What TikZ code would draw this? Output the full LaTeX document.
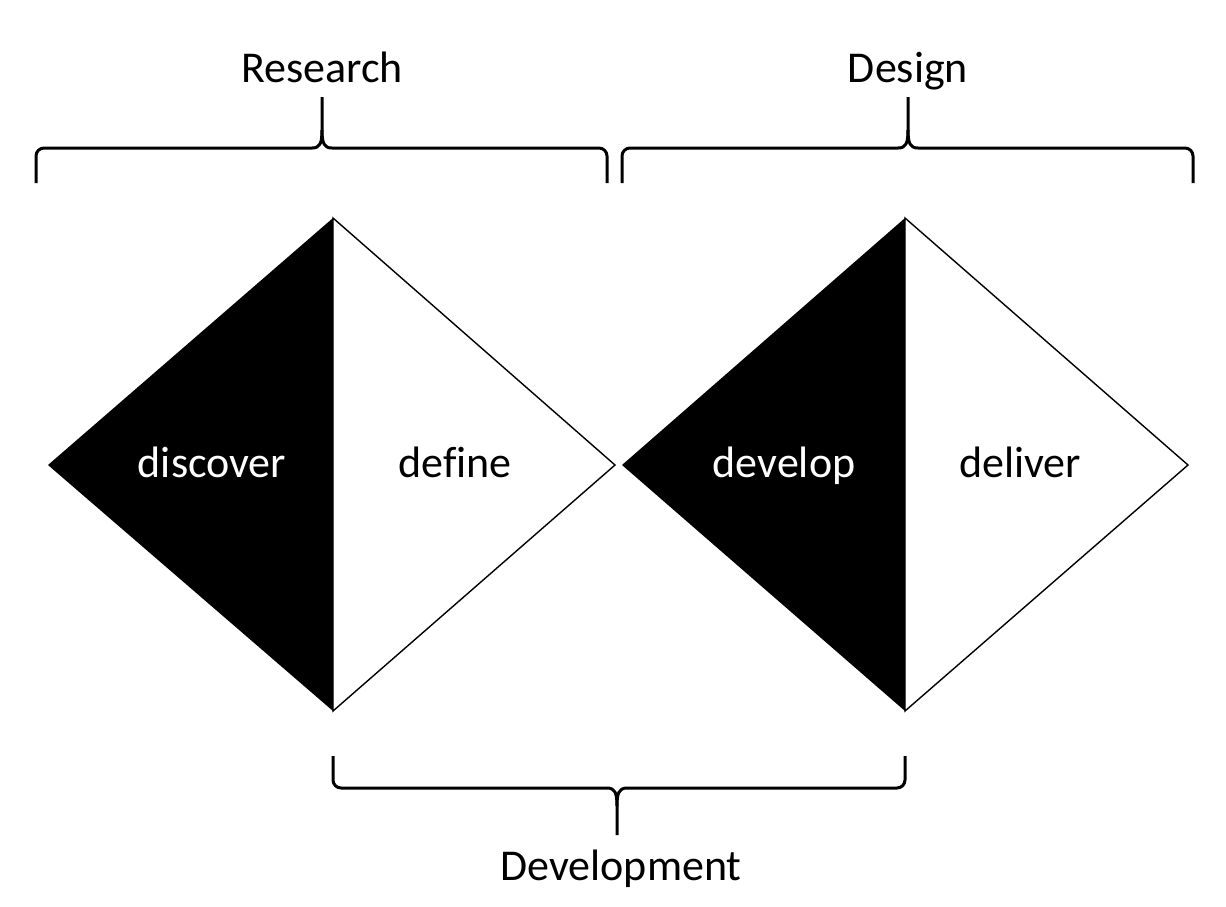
\documentclass[tikz,border=0pt]{standalone}
\usepackage{fontspec}
\setmainfont{Carlito}[Ligatures=NoCommon]
\begin{document}
\begin{tikzpicture}[x=1pt,y=-1pt,
  lbl/.style={inner sep=0pt, anchor=base, font=\fontsize{44}{50}\selectfont},
  bracestyle/.style={line width=3pt, line join=round},
  edge/.style={line width=1.4pt, line join=miter}]
\useasboundingbox[fill=white] (0,0) rectangle (1226,906);
% diamond vertices
\coordinate (aL) at (48,465);  \coordinate (aT) at (333,218);
\coordinate (aB) at (333,711); \coordinate (aR) at (615,465);
\coordinate (bL) at (622,465); \coordinate (bT) at (905,218);
\coordinate (bB) at (905,711); \coordinate (bR) at (1188,465);
% diamonds
\fill[black] (aL) -- (aT) -- (aB) -- cycle;
\draw[edge] (aT) -- (aR) -- (aB) -- cycle;
\fill[black] (bL) -- (bT) -- (bB) -- cycle;
\draw[edge] (bT) -- (bR) -- (bB) -- cycle;
% labels inside
\node[lbl, text=white] (discover) at (212,477) {discover};
\node[lbl] (define) at (455,477) {define};
\node[lbl, text=white] (develop) at (784,477) {develop};
\node[lbl] (deliver) at (1020,477) {deliver};
% top braces
\draw[bracestyle, rounded corners=8pt] (36,183) -- (36,148) -- (312,148);
\draw[bracestyle] (312,148) .. controls (320,148) and (322,143) .. (322,130) -- (322,97);
\draw[bracestyle, rounded corners=8pt] (607,183) -- (607,148) -- (332,148);
\draw[bracestyle] (332,148) .. controls (324,148) and (322,143) .. (322,130);
\draw[bracestyle, rounded corners=8pt] (622,183) -- (622,148) -- (898,148);
\draw[bracestyle] (898,148) .. controls (906,148) and (908,143) .. (908,130) -- (908,97);
\draw[bracestyle, rounded corners=8pt] (1193,183) -- (1193,148) -- (918,148);
\draw[bracestyle] (918,148) .. controls (910,148) and (908,143) .. (908,130);
% bottom brace
\draw[bracestyle, rounded corners=8pt] (333,756) -- (333,788) -- (607,788);
\draw[bracestyle] (607,788) .. controls (615,788) and (617,793) .. (617,806) -- (617,835);
\draw[bracestyle, rounded corners=8pt] (905,756) -- (905,788) -- (627,788);
\draw[bracestyle] (627,788) .. controls (619,788) and (617,793) .. (617,806);
% brace labels
\node[lbl] (research) at (322,82) {Research};
\node[lbl] (design) at (908,82) {Design};
\node[lbl] (development) at (621,880) {Development};
\end{tikzpicture}
\end{document}
